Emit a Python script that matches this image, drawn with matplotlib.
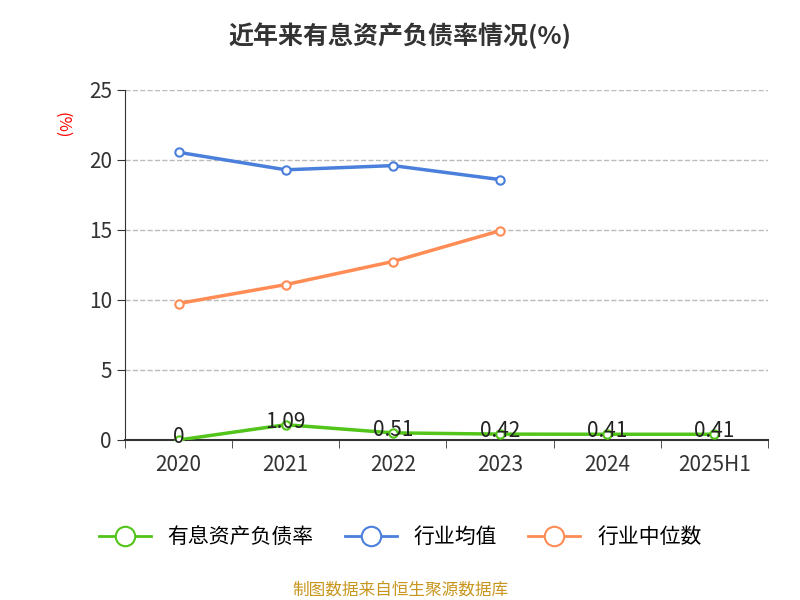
import matplotlib.pyplot as plt
from matplotlib import font_manager
from matplotlib.lines import Line2D

# pick whichever CJK family is actually registered
names = {f.name for f in font_manager.fontManager.ttflist}
cjk = [n for n in ['Noto Sans CJK SC', 'Noto Sans CJK JP', 'Noto Sans CJK TC',
                   'Noto Sans CJK KR', 'Noto Sans SC'] if n in names]
plt.rcParams['font.family'] = cjk + ['DejaVu Sans']

years = ['2020', '2021', '2022', '2023', '2024', '2025H1']
debt_rate = [0, 1.09, 0.51, 0.42, 0.41, 0.41]
debt_labels = ['0', '1.09', '0.51', '0.42', '0.41', '0.41']
ind_avg = [20.55, 19.3, 19.6, 18.6]
ind_median = [9.75, 11.1, 12.75, 14.95]

green, blue, orange = '#52c41a', '#4a7fdc', '#ff8c55'

fig = plt.figure(figsize=(8, 6), dpi=100)
ax = fig.add_axes([125 / 800, 160 / 600, 643 / 800, 350 / 600])
x = list(range(len(years)))

ax.plot(x[:4], ind_avg, color=blue, lw=2.5, marker='o', ms=6,
        mfc='white', mew=1.5, zorder=3)
ax.plot(x[:4], ind_median, color=orange, lw=2.5, marker='o', ms=6,
        mfc='white', mew=1.5, zorder=3)
ax.plot(x, debt_rate, color=green, lw=2.5, marker='o', ms=6,
        mfc='white', mew=1.5, zorder=3)
for xi, v, t in zip(x, debt_rate, debt_labels):
    ax.text(xi, v + 0.2, t, ha='center', va='center', fontsize=15, color='#222222')

ax.set_xlim(-0.5, 5.5)
ax.set_ylim(0, 25)
ax.set_yticks([0, 5, 10, 15, 20, 25])
ax.set_xticks(x)
ax.set_xticklabels(years)
ax.set_xticks([i - 0.5 for i in range(7)], minor=True)
ax.tick_params(axis='x', which='major', length=0, labelsize=15, colors='#333333', pad=10)
ax.tick_params(axis='x', which='minor', length=6, color='#333333')
ax.tick_params(axis='y', labelsize=15, colors='#333333', length=6)
ax.grid(axis='y', ls='--', color='#bbbbbb', lw=1)
for s in ['top', 'right']:
    ax.spines[s].set_visible(False)
ax.spines['left'].set_color('#333333')
ax.spines['bottom'].set_color('#333333')
ax.spines['bottom'].set_linewidth(1.5)

fig.text(62 / 800, 1 - 125 / 600, '(%)', color='red', rotation=-90,
         ha='center', va='center', fontsize=12)
fig.suptitle('近年来有息资产负债率情况(%)', y=1 - 22 / 600, fontsize=18,
             fontweight='bold', color='#333333')

handles = [Line2D([], [], color=c, lw=2, marker='o', ms=14, mfc='white', mew=1.5)
           for c in (green, blue, orange)]
fig.legend(handles, ['有息资产负债率', '行业均值', '行业中位数'], loc='center',
           bbox_to_anchor=(0.5, 1 - 537 / 600), ncol=3, frameon=False,
           fontsize=15, handlelength=2.5, columnspacing=1.5)
fig.text(0.5, 1 - 590 / 600, '制图数据来自恒生聚源数据库', ha='center', va='center',
         fontsize=12, color='#c8961e')

fig.savefig('out.png')
